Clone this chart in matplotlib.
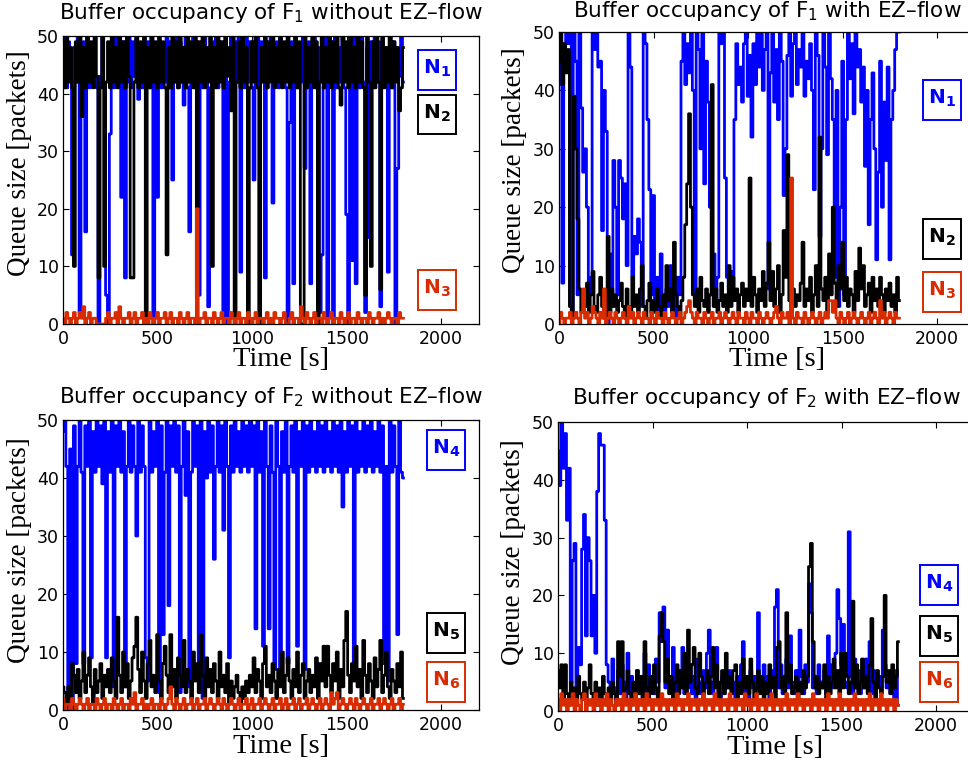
import numpy as np
import matplotlib
matplotlib.use('Agg')
import matplotlib.pyplot as plt
from matplotlib.patches import Rectangle

plt.rcParams['font.family'] = 'DejaVu Sans'
plt.rcParams['mathtext.fontset'] = 'dejavusans'
plt.rcParams['path.simplify'] = False

BLUE = '#0000ff'
BLACK = '#000000'
RED = '#d92b00'

# queue samples every 10 s, t = 0 .. 1800 s
time_s = np.arange(0, 1801, 10)

# ---- flow F1, no EZ-flow ----
f1_plain_n1 = [42, 50, 41, 49, 43, 12, 48, 42, 50, 2,
               36, 49, 16, 50, 41, 48, 42, 50, 41, 0,
               43, 50, 41, 5, 0, 33, 49, 41, 50, 42,
               48, 22, 49, 8, 42, 50, 41, 49, 43, 50,
               39, 48, 41, 50, 42, 49, 41, 50, 0, 43,
               22, 49, 41, 48, 42, 50, 41, 49, 25, 42,
               50, 41, 49, 42, 38, 50, 41, 16, 43, 50,
               41, 49, 5, 48, 41, 50, 42, 3, 41, 49,
               42, 50, 41, 49, 43, 1, 48, 0, 42, 50,
               41, 49, 42, 50, 9, 48, 41, 50, 42, 49,
               41, 25, 43, 50, 41, 49, 42, 8, 41, 48,
               50, 21, 42, 49, 41, 50, 43, 48, 41, 0,
               35, 49, 7, 50, 41, 48, 42, 50, 27, 41,
               49, 7, 42, 50, 41, 48, 2, 12, 41, 50,
               0, 43, 49, 0, 50, 41, 48, 42, 50, 41,
               19, 0, 42, 11, 50, 7, 49, 41, 50, 42,
               2, 48, 15, 49, 41, 50, 42, 49, 3, 41,
               48, 42, 9, 50, 41, 49, 0, 27, 43, 50,
               42]
f1_plain_n2 = [49, 41, 50, 42, 48, 41, 10, 49, 42, 50,
               36, 48, 41, 50, 42, 49, 41, 50, 43, 8,
               41, 50, 10, 42, 49, 41, 50, 42, 48, 41,
               50, 42, 49, 41, 50, 43, 8, 8, 42, 50,
               41, 49, 42, 50, 0, 48, 41, 50, 42, 49,
               41, 50, 42, 49, 41, 12, 48, 41, 50, 42,
               49, 41, 50, 42, 48, 41, 50, 42, 49, 41,
               50, 5, 49, 42, 50, 41, 48, 42, 50, 10,
               48, 41, 50, 42, 49, 41, 50, 43, 48, 37,
               50, 0, 42, 49, 41, 50, 42, 48, 0, 41,
               49, 42, 50, 41, 0, 48, 42, 50, 41, 49,
               42, 50, 41, 48, 42, 50, 41, 49, 42, 50,
               41, 48, 42, 50, 41, 49, 0, 0, 50, 41,
               48, 42, 50, 41, 49, 0, 42, 50, 41, 48,
               42, 50, 41, 49, 42, 50, 41, 38, 50, 42,
               49, 41, 50, 42, 48, 41, 50, 42, 49, 41,
               5, 50, 42, 10, 49, 41, 50, 42, 6, 50,
               41, 48, 42, 50, 41, 49, 42, 48, 37, 41,
               48]
f1_plain_n3 = [1, 0, 2, 1, 0, 1, 2, 0, 1, 2,
               1, 3, 0, 1, 2, 0, 1, 1, 0, 0,
               0, 0, 0, 1, 2, 0, 1, 1, 2, 0,
               3, 1, 0, 1, 1, 2, 0, 1, 2, 0,
               1, 1, 2, 0, 1, 0, 2, 1, 0, 1,
               2, 0, 1, 1, 2, 0, 1, 2, 0, 1,
               1, 0, 2, 1, 0, 1, 2, 0, 1, 1,
               0, 20, 0, 1, 1, 2, 0, 1, 1, 0,
               2, 1, 0, 1, 2, 0, 1, 1, 0, 2,
               1, 0, 1, 2, 0, 1, 1, 0, 2, 1,
               0, 1, 2, 0, 1, 1, 0, 1, 2, 0,
               1, 0, 2, 1, 1, 0, 1, 2, 0, 0,
               1, 2, 0, 1, 1, 0, 3, 1, 0, 2,
               1, 0, 1, 2, 0, 1, 1, 0, 2, 1,
               0, 1, 2, 0, 1, 1, 0, 2, 1, 0,
               1, 2, 0, 1, 1, 0, 2, 1, 0, 1,
               1, 0, 2, 1, 0, 1, 1, 2, 0, 1,
               0, 1, 2, 1, 0, 1, 1, 0, 2, 1,
               1]

# ---- flow F1, with EZ-flow ----
f1_ez_n1 = [46, 41, 7, 44, 50, 48, 50, 2, 50, 45,
            5, 50, 37, 26, 30, 20, 5, 8, 50, 47,
            50, 44, 45, 16, 40, 33, 0, 12, 5, 28,
            20, 5, 28, 25, 18, 24, 10, 50, 44, 8,
            15, 12, 18, 14, 3, 50, 48, 35, 23, 5,
            22, 3, 8, 2, 12, 4, 1, 6, 3, 10,
            2, 5, 1, 8, 5, 45, 50, 41, 48, 43,
            50, 40, 5, 50, 47, 30, 50, 24, 45, 38,
            20, 5, 12, 3, 8, 50, 48, 50, 25, 8,
            6, 9, 5, 35, 48, 41, 44, 38, 48, 50,
            39, 46, 32, 48, 41, 50, 44, 50, 40, 47,
            50, 6, 43, 50, 38, 47, 35, 50, 45, 22,
            30, 46, 50, 39, 48, 50, 41, 47, 44, 50,
            39, 45, 42, 48, 40, 23, 50, 46, 15, 30,
            50, 44, 29, 50, 42, 35, 8, 40, 3, 20,
            45, 5, 35, 50, 42, 48, 36, 50, 44, 47,
            38, 44, 27, 40, 17, 35, 43, 30, 11, 26,
            45, 20, 38, 28, 44, 11, 35, 40, 47, 50,
            50]
f1_ez_n2 = [45, 50, 41, 48, 43, 47, 3, 1, 39, 30,
            18, 6, 2, 4, 3, 7, 2, 5, 9, 3,
            2, 5, 8, 3, 1, 4, 15, 2, 6, 3,
            5, 2, 4, 7, 3, 1, 6, 3, 2, 8,
            3, 5, 2, 6, 10, 3, 1, 4, 7, 2,
            4, 2, 6, 3, 1, 5, 3, 10, 4, 6,
            2, 14, 5, 3, 1, 4, 8, 17, 24, 36,
            20, 5, 3, 6, 2, 8, 4, 3, 6, 2,
            5, 41, 3, 6, 2, 4, 7, 3, 5, 2,
            10, 3, 8, 4, 6, 2, 5, 7, 3, 6,
            4, 25, 3, 8, 5, 2, 6, 4, 9, 3,
            7, 14, 4, 9, 3, 6, 10, 2, 5, 16,
            8, 29, 4, 2, 6, 3, 5, 4, 7, 14,
            3, 6, 4, 8, 2, 5, 10, 3, 32, 6,
            4, 8, 2, 12, 5, 20, 7, 3, 10, 6,
            14, 4, 8, 3, 6, 5, 2, 9, 4, 13,
            6, 10, 3, 5, 7, 2, 8, 4, 6, 3,
            8, 5, 2, 6, 4, 7, 3, 5, 2, 8,
            4]
f1_ez_n3 = [0, 2, 1, 0, 1, 1, 2, 0, 1, 2,
            1, 0, 2, 6, 1, 2, 0, 1, 3, 2,
            1, 0, 2, 1, 6, 0, 1, 2, 1, 0,
            2, 1, 0, 1, 2, 1, 0, 3, 1, 2,
            0, 1, 2, 1, 0, 2, 1, 1, 0, 2,
            1, 0, 2, 1, 1, 0, 2, 1, 0, 1,
            2, 1, 0, 1, 2, 0, 1, 2, 3, 4,
            2, 1, 0, 2, 1, 1, 0, 2, 1, 0,
            1, 2, 0, 1, 1, 2, 0, 1, 2, 1,
            0, 1, 2, 1, 0, 2, 1, 1, 0, 2,
            1, 0, 2, 1, 1, 0, 2, 1, 0, 1,
            2, 1, 0, 1, 2, 3, 1, 0, 2, 1,
            1, 2, 0, 25, 1, 0, 2, 1, 1, 0,
            2, 1, 0, 1, 2, 1, 0, 1, 2, 0,
            1, 2, 1, 4, 4, 2, 4, 1, 0, 2,
            1, 0, 1, 2, 0, 1, 2, 1, 0, 1,
            2, 1, 0, 1, 2, 0, 1, 2, 1, 0,
            4, 1, 2, 0, 1, 2, 1, 0, 2, 1,
            1]

# ---- flow F2, no EZ-flow ----
f2_plain_n4 = [48, 50, 42, 0, 45, 0, 49, 8, 42, 50,
               41, 8, 49, 42, 50, 9, 48, 41, 50, 42,
               49, 39, 50, 9, 48, 41, 50, 4, 49, 42,
               50, 41, 48, 4, 42, 50, 41, 49, 42, 30,
               50, 41, 49, 42, 9, 5, 50, 41, 48, 42,
               50, 3, 49, 13, 41, 50, 18, 49, 42, 50,
               41, 49, 3, 42, 50, 37, 48, 4, 41, 50,
               42, 49, 5, 50, 2, 48, 40, 50, 41, 49,
               26, 42, 50, 41, 49, 31, 50, 42, 9, 49,
               41, 50, 42, 48, 41, 50, 42, 49, 41, 50,
               42, 49, 14, 50, 41, 48, 11, 50, 42, 14,
               49, 41, 7, 50, 42, 7, 48, 41, 50, 8,
               42, 49, 41, 50, 11, 48, 42, 50, 7, 49,
               41, 50, 42, 48, 41, 50, 42, 49, 41, 50,
               42, 48, 41, 50, 42, 49, 41, 50, 35, 48,
               41, 50, 42, 49, 7, 50, 41, 48, 42, 50,
               41, 49, 42, 50, 41, 48, 42, 50, 41, 49,
               8, 42, 5, 50, 41, 49, 42, 13, 50, 41,
               40]
f2_plain_n5 = [4, 3, 1, 4, 2, 8, 6, 3, 7, 2,
               5, 10, 3, 6, 9, 4, 1, 7, 3, 5,
               8, 2, 6, 4, 7, 3, 9, 5, 2, 16,
               6, 3, 10, 4, 8, 2, 5, 9, 11, 16,
               7, 3, 10, 5, 2, 8, 12, 4, 6, 3,
               13, 5, 2, 8, 11, 6, 3, 13, 4, 7,
               2, 9, 6, 4, 12, 3, 7, 5, 2, 10,
               5, 8, 3, 13, 6, 2, 9, 4, 7, 3,
               8, 5, 2, 10, 4, 6, 3, 8, 1, 5,
               2, 4, 6, 3, 1, 4, 2, 5, 3, 6,
               4, 9, 3, 7, 5, 2, 8, 11, 4, 6,
               3, 8, 5, 2, 7, 4, 10, 3, 6, 9,
               5, 2, 7, 4, 10, 3, 6, 8, 2, 5,
               7, 3, 6, 4, 9, 2, 8, 5, 11, 4,
               11, 6, 3, 8, 5, 10, 2, 7, 4, 12,
               17, 6, 3, 8, 5, 11, 4, 7, 2, 12,
               6, 3, 8, 5, 2, 9, 4, 7, 12, 3,
               6, 10, 4, 2, 7, 5, 3, 8, 4, 10,
               2]
f2_plain_n6 = [2, 0, 1, 1, 0, 2, 1, 0, 1, 2,
               1, 0, 1, 2, 0, 1, 1, 0, 2, 1,
               0, 1, 2, 0, 1, 1, 0, 2, 1, 0,
               1, 2, 0, 1, 1, 0, 2, 1, 3, 0,
               1, 1, 2, 0, 1, 0, 1, 2, 0, 1,
               1, 0, 2, 1, 0, 1, 2, 4, 1, 0,
               2, 1, 0, 1, 2, 0, 1, 1, 2, 0,
               1, 2, 0, 1, 1, 2, 0, 1, 2, 1,
               0, 1, 2, 1, 0, 2, 1, 0, 1, 2,
               1, 0, 1, 2, 0, 1, 1, 2, 0, 1,
               2, 0, 1, 1, 2, 0, 1, 2, 1, 0,
               1, 2, 0, 1, 1, 2, 0, 1, 2, 0,
               1, 1, 2, 0, 1, 2, 0, 1, 1, 2,
               0, 1, 2, 1, 0, 1, 2, 0, 1, 2,
               1, 0, 3, 1, 2, 3, 0, 1, 2, 1,
               0, 1, 2, 1, 0, 2, 1, 0, 1, 2,
               1, 0, 1, 2, 0, 1, 1, 2, 0, 1,
               2, 1, 0, 1, 2, 0, 1, 1, 2, 0,
               1]

# ---- flow F2, with EZ-flow ----
f2_ez_n4 = [45, 39, 50, 42, 48, 33, 42, 5, 26, 29,
            3, 11, 8, 28, 34, 13, 30, 26, 13, 20,
            10, 38, 48, 46, 46, 33, 8, 5, 3, 9,
            4, 2, 7, 3, 8, 5, 2, 10, 3, 6,
            2, 4, 7, 3, 5, 2, 10, 3, 8, 4,
            6, 3, 9, 5, 17, 12, 18, 4, 14, 6,
            3, 11, 5, 2, 7, 4, 11, 3, 6, 4,
            8, 3, 6, 2, 9, 5, 3, 7, 4, 10,
            14, 5, 3, 8, 11, 4, 2, 6, 3, 5,
            4, 7, 3, 5, 2, 6, 4, 8, 12, 3,
            5, 2, 7, 4, 6, 3, 17, 5, 3, 8,
            4, 6, 2, 7, 5, 18, 21, 4, 8, 3,
            6, 9, 4, 13, 5, 3, 7, 4, 14, 6,
            3, 8, 5, 22, 17, 4, 6, 3, 8, 5,
            4, 7, 3, 13, 5, 8, 4, 10, 21, 16,
            8, 15, 5, 4, 31, 6, 3, 9, 4, 7,
            3, 6, 4, 9, 5, 12, 3, 7, 4, 5,
            6, 3, 14, 8, 4, 6, 3, 5, 2, 7,
            1]
f2_ez_n5 = [7, 4, 8, 2, 8, 3, 1, 5, 2, 4,
            1, 6, 3, 2, 5, 1, 4, 8, 3, 2,
            5, 1, 4, 2, 6, 3, 1, 4, 2, 5,
            3, 1, 12, 6, 12, 2, 4, 7, 3, 1,
            5, 2, 7, 3, 6, 1, 12, 4, 2, 6,
            3, 8, 4, 2, 13, 17, 12, 5, 9, 3,
            6, 2, 5, 8, 3, 7, 4, 10, 3, 14,
            5, 8, 11, 4, 3, 10, 6, 2, 5, 7,
            3, 6, 11, 4, 8, 2, 5, 7, 3, 10,
            4, 6, 3, 7, 8, 2, 5, 3, 9, 4,
            6, 3, 9, 5, 2, 4, 7, 3, 6, 2,
            5, 3, 8, 4, 6, 2, 11, 12, 4, 6,
            3, 17, 5, 8, 3, 4, 6, 2, 5, 3,
            7, 4, 6, 25, 29, 12, 4, 6, 3, 5,
            4, 8, 2, 6, 3, 5, 9, 4, 7, 3,
            10, 4, 10, 6, 3, 5, 19, 4, 8, 3,
            5, 9, 4, 6, 3, 8, 16, 5, 2, 7,
            4, 3, 6, 20, 5, 7, 3, 8, 4, 6,
            12]
f2_ez_n6 = [2, 0, 3, 1, 2, 0, 2, 1, 3, 0,
            2, 1, 0, 2, 3, 0, 2, 1, 2, 0,
            3, 1, 2, 0, 2, 1, 3, 0, 2, 1,
            0, 2, 1, 2, 0, 3, 1, 2, 0, 2,
            1, 3, 0, 2, 1, 2, 0, 3, 1, 2,
            0, 2, 1, 2, 0, 3, 1, 2, 0, 2,
            1, 2, 0, 3, 1, 2, 0, 2, 1, 3,
            0, 2, 1, 2, 0, 2, 1, 3, 0, 2,
            1, 2, 0, 3, 1, 2, 0, 2, 1, 2,
            0, 3, 1, 2, 0, 2, 1, 2, 0, 3,
            1, 2, 0, 2, 1, 3, 0, 2, 1, 2,
            0, 2, 1, 3, 0, 2, 1, 2, 0, 2,
            1, 3, 0, 2, 1, 2, 0, 3, 1, 2,
            0, 2, 1, 2, 0, 3, 1, 2, 0, 2,
            1, 2, 0, 3, 1, 2, 0, 2, 1, 3,
            0, 2, 1, 2, 0, 2, 1, 3, 0, 2,
            1, 2, 0, 2, 1, 3, 0, 2, 1, 2,
            0, 3, 1, 2, 0, 2, 1, 2, 0, 2,
            1]

titles = ['Buffer occupancy of F$_1$ without EZ\u2013flow',
          'Buffer occupancy of F$_1$ with EZ\u2013flow',
          'Buffer occupancy of F$_2$ without EZ\u2013flow',
          'Buffer occupancy of F$_2$ with EZ\u2013flow']
node_labels = [['1', '2', '3'], ['1', '2', '3'], ['4', '5', '6'], ['4', '5', '6']]
# vertical spot of each node tag, in packets
tag_y = [[44.1, 36.3, 5.9], [38.4, 14.6, 5.5], [44.8, 13.3, 4.8], [21.8, 13.0, 5.0]]


def draw_panel(ax, title, series, nodes, tag_levels, tag_x, title_pad):
    colors = [BLUE, BLACK, RED]
    for values, c in zip(series, colors):
        ax.plot(time_s, values, color=c, linewidth=2.0, drawstyle='steps-mid',
                snap=False)

    ax.set_xlim(0, 2200)
    ax.set_ylim(0, 50)
    ax.set_xticks([0, 500, 1000, 1500, 2000])
    ax.set_yticks([0, 10, 20, 30, 40, 50])
    ax.tick_params(direction='in', length=4, width=0.8, top=True, right=True,
                   labelsize=12.5, pad=4.5)
    ax.tick_params(axis='y', pad=3)
    for sp in ax.spines.values():
        sp.set_linewidth(0.9)

    ax.set_title(title, fontsize=15.5, pad=title_pad)
    ax.set_xlabel('Time [s]', family='Liberation Serif', fontsize=20.5)
    ax.set_ylabel('Queue size [packets]', family='Liberation Serif', fontsize=19.5)

    # node tags: framed labels on the right of the trace
    for n, y, c in zip(nodes, tag_levels, colors):
        ax.add_patch(Rectangle((tag_x - 100, y - 3.4), 200, 6.8, fc='white', ec=c,
                               lw=1.4, zorder=5))
        ax.text(tag_x, y + 0.3, r'$\mathbf{N_%s}$' % n, color=c, fontsize=14.5,
                ha='center', va='center', zorder=6)


fig = plt.figure(figsize=(9.68, 7.62), dpi=100)

ax_tl = fig.add_axes([0.0651, 0.5748, 0.4298, 0.3780])
ax_tr = fig.add_axes([0.5775, 0.5748, 0.4298, 0.3832])
ax_bl = fig.add_axes([0.0651, 0.0682, 0.4298, 0.3806])
ax_br = fig.add_axes([0.5764, 0.0669, 0.4298, 0.3793])

draw_panel(ax_tl, titles[0], [f1_plain_n1, f1_plain_n2, f1_plain_n3], node_labels[0], tag_y[0], 1979, 12.5)
draw_panel(ax_tr, titles[1], [f1_ez_n1, f1_ez_n2, f1_ez_n3], node_labels[1], tag_y[1], 2026, 10.5)
draw_panel(ax_bl, titles[2], [f2_plain_n4, f2_plain_n5, f2_plain_n6], node_labels[2], tag_y[2], 2026, 12)
draw_panel(ax_br, titles[3], [f2_ez_n4, f2_ez_n5, f2_ez_n6], node_labels[3], tag_y[3], 2016, 13)

ax_tl.xaxis.set_label_coords(0.524, -0.08)
ax_tr.xaxis.set_label_coords(0.524, -0.08)
ax_bl.xaxis.set_label_coords(0.524, -0.082)
ax_br.xaxis.set_label_coords(0.523, -0.082)
ax_tl.yaxis.set_label_coords(-0.075, 0.56)
ax_tr.yaxis.set_label_coords(-0.077, 0.56)
ax_bl.yaxis.set_label_coords(-0.075, 0.55)
ax_br.yaxis.set_label_coords(-0.077, 0.55)

fig.savefig('out.png', dpi=100)
